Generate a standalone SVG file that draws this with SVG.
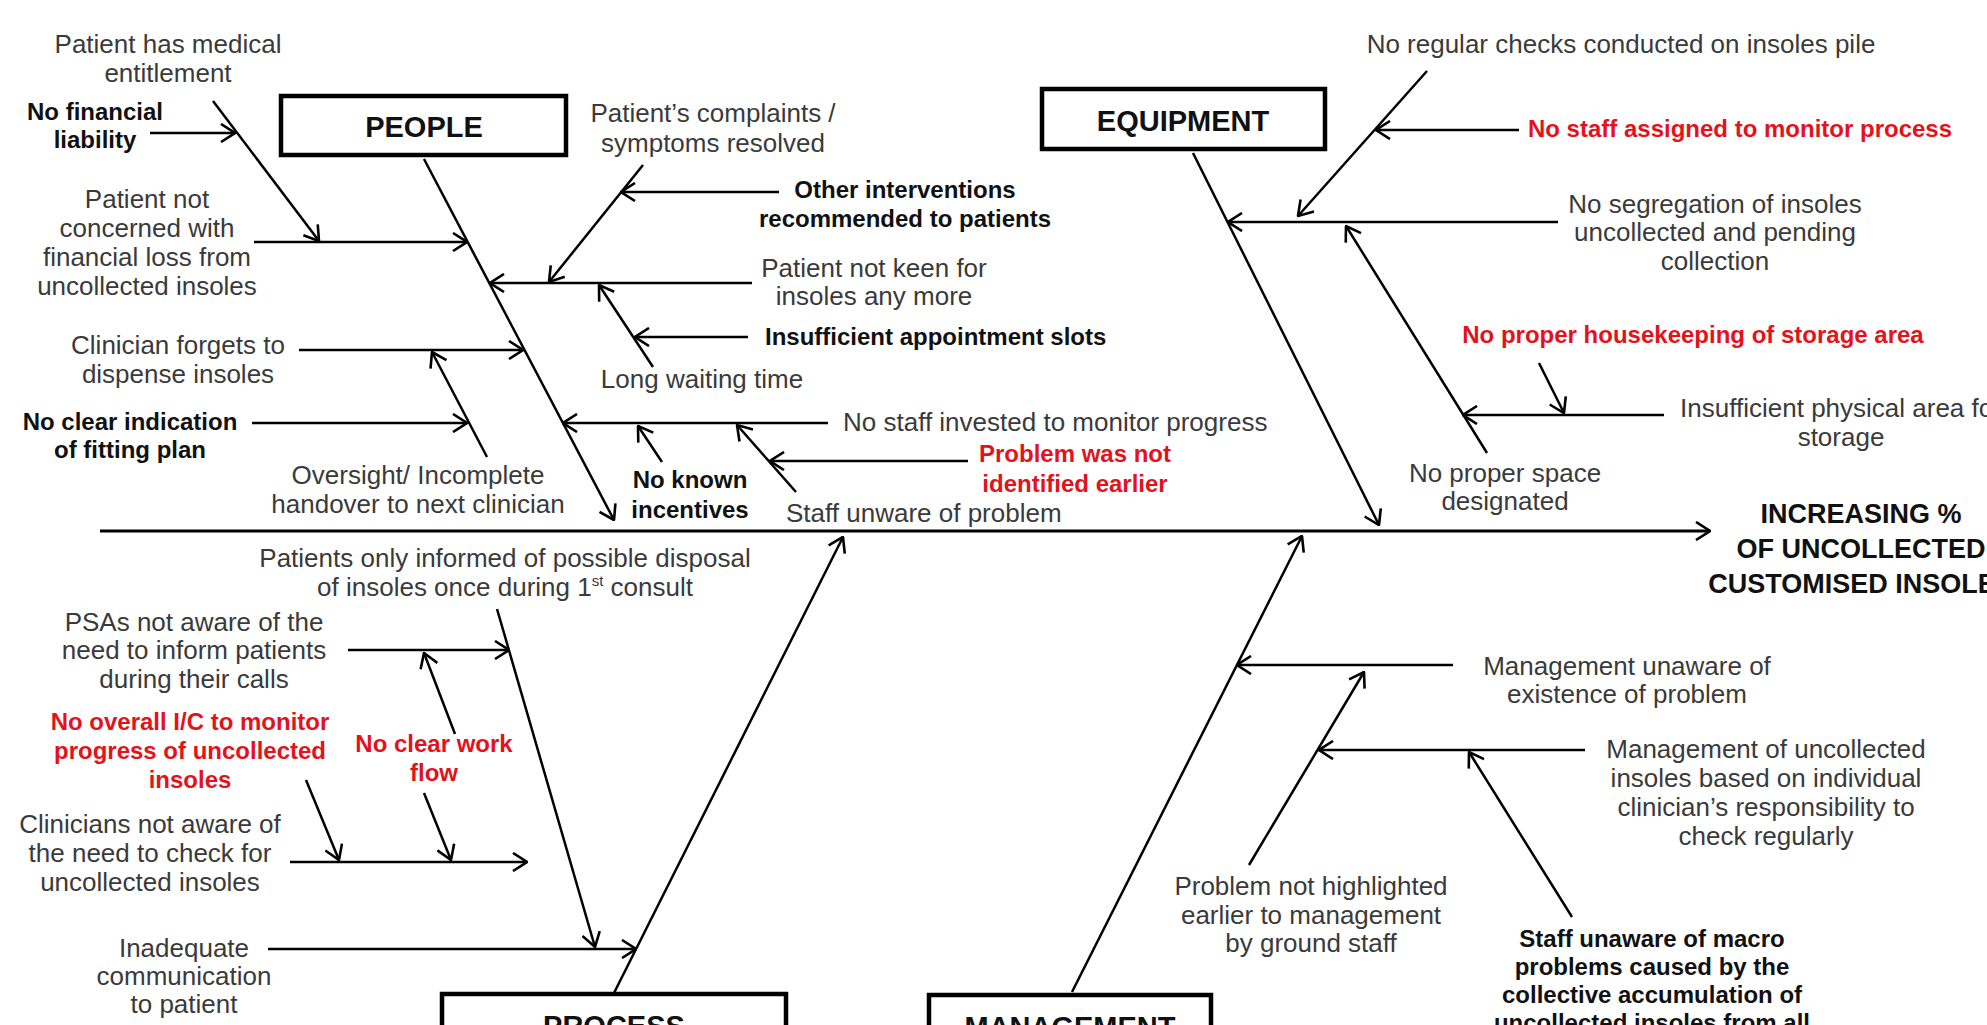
<svg xmlns="http://www.w3.org/2000/svg" width="1987" height="1025" viewBox="0 0 1987 1025">
<defs>
<marker id="ah" viewBox="0 0 16 20" refX="15" refY="10" markerWidth="16" markerHeight="20" orient="auto" markerUnits="userSpaceOnUse">
<path d="M1,1 L15,10 L1,19" fill="none" stroke="#000" stroke-width="2.6"/>
</marker>
</defs>
<style>
text{font-family:"Liberation Sans",Arial,sans-serif;}
.t{font-size:26px;fill:#3a3a3a;text-anchor:middle;}
.tl{font-size:26px;fill:#3a3a3a;}
.b{font-size:24px;font-weight:bold;fill:#111;text-anchor:middle;}
.bl{font-size:24px;font-weight:bold;fill:#111;}
.r{font-size:24px;font-weight:bold;fill:#e3121b;text-anchor:middle;}
.lbl{font-size:29px;font-weight:bold;fill:#111;text-anchor:middle;}
.eff{font-size:27px;font-weight:bold;fill:#111;text-anchor:middle;}
.box{fill:#fff;stroke:#000;stroke-width:4.5;}
.c line{stroke:#000;stroke-width:2.5;marker-end:url(#ah);}
</style>
<rect width="1987" height="1025" fill="#fff"/>

<g id="connectors" class="c">
<line x1="100" y1="531" x2="1710" y2="531" style="stroke-width:3"/>
<!-- people -->
<line x1="424" y1="159" x2="614" y2="520"/>
<line x1="150" y1="133" x2="235" y2="133"/>
<line x1="213" y1="101" x2="319" y2="241"/>
<line x1="254" y1="242" x2="467" y2="242"/>
<line x1="779" y1="192" x2="621" y2="192"/>
<line x1="643" y1="165" x2="549" y2="282"/>
<line x1="752" y1="283" x2="490" y2="283"/>
<line x1="748" y1="337" x2="635" y2="337"/>
<line x1="653" y1="367" x2="599" y2="285"/>
<line x1="299" y1="350" x2="523" y2="350"/>
<line x1="487" y1="457" x2="432" y2="352"/>
<line x1="252" y1="423" x2="467" y2="423"/>
<line x1="828" y1="423" x2="563" y2="423"/>
<line x1="662" y1="462" x2="638" y2="426"/>
<line x1="968" y1="461" x2="770" y2="461"/>
<line x1="796" y1="492" x2="737" y2="425"/>
<!-- equipment -->
<line x1="1193" y1="153" x2="1379" y2="525"/>
<line x1="1427" y1="71" x2="1298" y2="216"/>
<line x1="1519" y1="130" x2="1376" y2="130"/>
<line x1="1558" y1="222" x2="1228" y2="222"/>
<line x1="1487" y1="453" x2="1346" y2="226"/>
<line x1="1664" y1="415" x2="1463" y2="415"/>
<line x1="1539" y1="363" x2="1564" y2="413"/>
<!-- process -->
<line x1="614" y1="993" x2="843" y2="537"/>
<line x1="497" y1="609" x2="595" y2="947"/>
<line x1="348" y1="650" x2="509" y2="650"/>
<line x1="455" y1="734" x2="424" y2="653"/>
<line x1="424" y1="793" x2="451" y2="860"/>
<line x1="306" y1="780" x2="339" y2="860"/>
<line x1="290" y1="862" x2="527" y2="862"/>
<line x1="268" y1="949" x2="636" y2="949"/>
<!-- management -->
<line x1="1072" y1="992" x2="1302" y2="536"/>
<line x1="1453" y1="665" x2="1237" y2="665"/>
<line x1="1249" y1="865" x2="1364" y2="672"/>
<line x1="1585" y1="750" x2="1319" y2="750"/>
<line x1="1572" y1="917" x2="1469" y2="752"/>
</g>

<g id="people"><rect class="box" x="281" y="96" width="285" height="59"/><text class="lbl" x="424" y="137">PEOPLE</text></g>
<g id="equipment"><rect class="box" x="1042" y="89" width="283" height="60"/><text class="lbl" x="1183" y="131">EQUIPMENT</text></g>
<g id="process"><rect class="box" x="442" y="994" width="344" height="70"/><text class="lbl" x="614" y="1036">PROCESS</text></g>
<g id="management"><rect class="box" x="929" y="995" width="282" height="70"/><text class="lbl" x="1070" y="1037">MANAGEMENT</text></g>

<g id="effect"><text class="eff" x="1861" y="523">INCREASING %</text><text class="eff" x="1861" y="558">OF UNCOLLECTED</text><text class="eff" x="1861" y="593">CUSTOMISED INSOLES</text></g>

<g id="n-entitlement"><text class="t" x="168" y="53">Patient has medical</text><text class="t" x="168" y="82">entitlement</text></g>
<g id="n-nofinancial"><text class="b" x="95" y="120">No financial</text><text class="b" x="95" y="148">liability</text></g>
<g id="n-notconcerned"><text class="t" x="147" y="208">Patient not</text><text class="t" x="147" y="237">concerned with</text><text class="t" x="147" y="266">financial loss from</text><text class="t" x="147" y="295">uncollected insoles</text></g>
<g id="n-complaints"><text class="t" x="713" y="122">Patient’s complaints /</text><text class="t" x="713" y="152">symptoms resolved</text></g>
<g id="n-otherinterventions"><text class="b" x="905" y="198">Other interventions</text><text class="b" x="905" y="227">recommended to patients</text></g>
<g id="n-notkeen"><text class="t" x="874" y="277">Patient not keen for</text><text class="t" x="874" y="305">insoles any more</text></g>
<g id="n-slots"><text class="bl" x="765" y="345">Insufficient appointment slots</text></g>
<g id="n-longwait"><text class="t" x="702" y="388">Long waiting time</text></g>
<g id="n-clinicianforgets"><text class="t" x="178" y="354">Clinician forgets to</text><text class="t" x="178" y="383">dispense insoles</text></g>
<g id="n-noclearindication"><text class="b" x="130" y="430">No clear indication</text><text class="b" x="130" y="458">of fitting plan</text></g>
<g id="n-oversight"><text class="t" x="418" y="484">Oversight/ Incomplete</text><text class="t" x="418" y="513">handover to next clinician</text></g>
<g id="n-noknown"><text class="b" x="690" y="488">No known</text><text class="b" x="690" y="518">incentives</text></g>
<g id="n-nostaffinvested"><text class="tl" x="843" y="431">No staff invested to monitor progress</text></g>
<g id="n-notidentified"><text class="r" x="1075" y="462">Problem was not</text><text class="r" x="1075" y="492">identified earlier</text></g>
<g id="n-staffunware"><text class="tl" x="786" y="522">Staff unware of problem</text></g>

<g id="n-patientsinformed"><text class="t" x="505" y="567">Patients only informed of possible disposal</text><text class="t" x="505" y="596">of insoles once during 1<tspan font-size="15" dy="-10">st</tspan><tspan dy="10"> consult</tspan></text></g>
<g id="n-psas"><text class="t" x="194" y="631">PSAs not aware of the</text><text class="t" x="194" y="659">need to inform patients</text><text class="t" x="194" y="688">during their calls</text></g>
<g id="n-nooverall"><text class="r" x="190" y="730">No overall I/C to monitor</text><text class="r" x="190" y="759">progress of uncollected</text><text class="r" x="190" y="788">insoles</text></g>
<g id="n-noclearworkflow"><text class="r" x="434" y="752">No clear work</text><text class="r" x="434" y="781">flow</text></g>
<g id="n-cliniciansnotaware"><text class="t" x="150" y="833">Clinicians not aware of</text><text class="t" x="150" y="862">the need to check for</text><text class="t" x="150" y="891">uncollected insoles</text></g>
<g id="n-inadequate"><text class="t" x="184" y="957">Inadequate</text><text class="t" x="184" y="985">communication</text><text class="t" x="184" y="1013">to patient</text></g>

<g id="n-nothighlighted"><text class="t" x="1311" y="895">Problem not highlighted</text><text class="t" x="1311" y="924">earlier to management</text><text class="t" x="1311" y="952">by ground staff</text></g>
<g id="n-staffmacro"><text class="b" x="1652" y="947">Staff unaware of macro</text><text class="b" x="1652" y="975">problems caused by the</text><text class="b" x="1652" y="1003">collective accumulation of</text><text class="b" x="1652" y="1031">uncollected insoles from all</text></g>
<g id="n-mgmtunaware"><text class="t" x="1627" y="675">Management unaware of</text><text class="t" x="1627" y="703">existence of problem</text></g>
<g id="n-mgmtindividual"><text class="t" x="1766" y="758">Management of uncollected</text><text class="t" x="1766" y="787">insoles based on individual</text><text class="t" x="1766" y="816">clinician’s responsibility to</text><text class="t" x="1766" y="845">check regularly</text></g>

<g id="n-noregular"><text class="t" x="1621" y="53">No regular checks conducted on insoles pile</text></g>
<g id="n-nostaffassigned"><text class="r" x="1740" y="137">No staff assigned to monitor process</text></g>
<g id="n-nosegregation"><text class="t" x="1715" y="213">No segregation of insoles</text><text class="t" x="1715" y="241">uncollected and pending</text><text class="t" x="1715" y="270">collection</text></g>
<g id="n-housekeeping"><text class="r" x="1693" y="343">No proper housekeeping of storage area</text></g>
<g id="n-insufficientarea"><text class="t" x="1841" y="417">Insufficient physical area for</text><text class="t" x="1841" y="446">storage</text></g>
<g id="n-properspace"><text class="t" x="1505" y="482">No proper space</text><text class="t" x="1505" y="510">designated</text></g>
</svg>
